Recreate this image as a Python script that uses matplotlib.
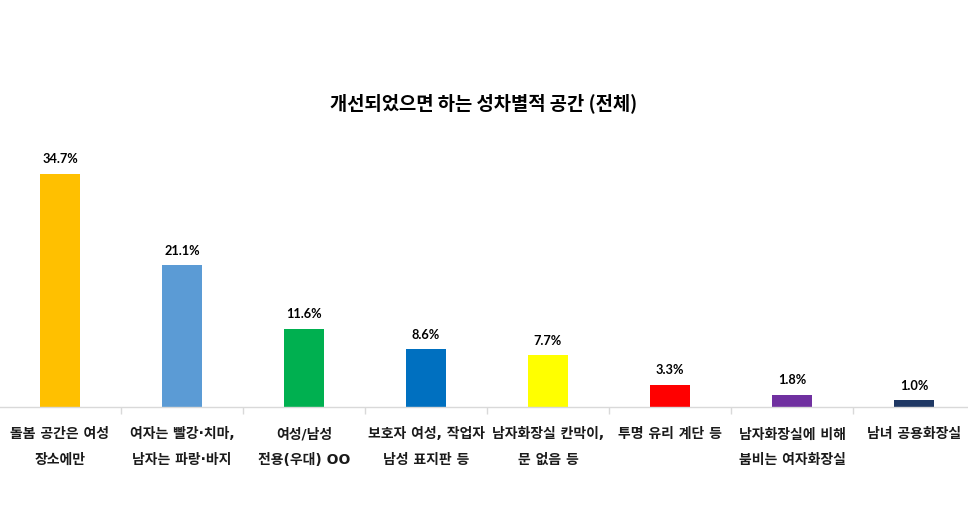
import matplotlib
matplotlib.use("Agg")
import matplotlib.pyplot as plt
import numpy as np

plt.rcParams['font.family'] = ['Noto Sans CJK KR', 'DejaVu Sans']

title = "개선되었으면 하는 성차별적 공간 (전체)"
categories = [
    "돌봄 공간은 여성\n장소에만",
    "여자는 빨강·치마,\n남자는 파랑·바지",
    "여성/남성\n전용(우대) OO",
    "보호자 여성, 작업자\n남성 표지판 등",
    "남자화장실 칸막이,\n문 없음 등",
    "투명 유리 계단 등",
    "남자화장실에 비해\n붐비는 여자화장실",
    "남녀 공용화장실",
]
values = [34.7, 21.1, 11.6, 8.6, 7.7, 3.3, 1.8, 1.0]
colors = ["#FFC000", "#5B9BD5", "#00B050", "#0070C0", "#FFFF00", "#FF0000", "#7030A0", "#1F3864"]

W, H = 968, 510
fig = plt.figure(figsize=(W / 100, H / 100), dpi=100)
ymax = 40
base_px = 408
px_per_unit = 6.71
ax_left = -1 / W
ax_w = 976 / W
ax_b = (H - base_px) / H
ax_h = ymax * px_per_unit / H
ax = fig.add_axes([ax_left, ax_b, ax_w, ax_h])

x = np.arange(len(values))
bars = ax.bar(x, values, width=0.32, color=colors, zorder=2)
ax.set_xlim(-0.5, len(values) - 0.5)
ax.set_ylim(0, ymax)

for xi, v in zip(x, values):
    ax.annotate(f"{v:.1f}%", (xi, v), xytext=(0, 7), textcoords="offset points",
                ha="center", va="bottom", fontsize=9.2, fontweight="bold",
                family=["Lato", "DejaVu Sans"], color="#000000")

for s in ["top", "right", "left"]:
    ax.spines[s].set_visible(False)
ax.spines["bottom"].set_color("#D9D9D9")
ax.spines["bottom"].set_linewidth(1.0)
ax.set_yticks([])

ax.set_xticks(x)
ax.set_xticklabels(categories, fontsize=10, linespacing=2.05, color="#1a1a1a",
                   fontweight="bold", family=["DejaVu Sans", "Noto Sans CJK KR"])
ax.tick_params(axis="x", which="major", length=0, pad=14)
ax.set_xticks(np.arange(0.5, len(values) - 0.5, 1.0), minor=True)
ax.tick_params(axis="x", which="minor", length=5, color="#D9D9D9", width=1.0)

fig.text(0.5, (H - 103) / H, title, ha="center", va="center", fontsize=13.5,
         fontweight="bold", color="#000000")

fig.savefig("out.png", dpi=100)
